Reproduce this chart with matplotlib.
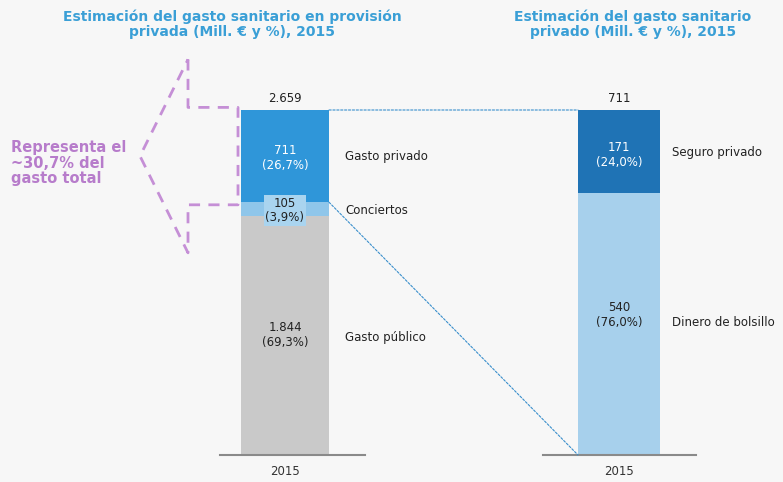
import matplotlib.pyplot as plt
from matplotlib.patches import ConnectionPatch
from matplotlib.transforms import blended_transform_factory

# Datos
year = ['2015']
left_labels = ['Gasto público', 'Conciertos', 'Gasto privado']
left_values = [1844, 105, 711]
left_pcts = ['69,3%', '3,9%', '26,7%']
left_colors = ['#c9c9c9', '#8fc6ea', '#2f96d9']
left_total = '2.659'

right_labels = ['Dinero de bolsillo', 'Seguro privado']
right_values = [540, 171]
right_pcts = ['76,0%', '24,0%']
right_colors = ['#a7d0ec', '#1f73b5']
right_total = '711'

W, H = 783, 482
fig = plt.figure(figsize=(W / 100, H / 100), dpi=100)
fig.patch.set_facecolor('#f7f7f7')
plt.rcParams['font.family'] = ['DejaVu Sans']


def px_axes(x0, x1, ytop, ybot):
    return fig.add_axes([x0 / W, 1 - ybot / H, (x1 - x0) / W, (ybot - ytop) / H])


axL = px_axes(220, 365, 110, 455)
axR = px_axes(543, 696, 110, 455)

for ax in (axL, axR):
    ax.set_facecolor('none')
    for s in ['top', 'right', 'left']:
        ax.spines[s].set_visible(False)
    ax.spines['bottom'].set_color('#8a8a8a')
    ax.spines['bottom'].set_linewidth(1.5)
    ax.set_yticks([])
    ax.tick_params(axis='x', length=0, labelsize=8.5, colors='#333333', pad=7)

# barra izquierda
axL.set_xlim(-65 / 88, 80 / 88)
axL.set_ylim(0, sum(left_values))
bottom = 0
mids = []
for v, c in zip(left_values, left_colors):
    axL.bar(year, v, bottom=bottom, width=1.0, color=c)
    mids.append(bottom + v / 2)
    bottom += v
axL.text(0, sum(left_values) + 40, left_total, ha='center', va='bottom', fontsize=8.5, color='#222222')
axL.text(0, mids[0], '1.844\n(' + left_pcts[0] + ')', ha='center', va='center', fontsize=8.5, color='#222222')
axL.text(0, mids[2] - 15, '711\n(' + left_pcts[2] + ')', ha='center', va='center', fontsize=8.5, color='white')
axL.text(0, mids[1] - 10, '105\n(' + left_pcts[1] + ')', ha='center', va='center', fontsize=8.5, color='#222222',
         linespacing=1.1, bbox=dict(boxstyle='square,pad=0.15', fc='#a9d4ef', ec='none'))
xl = 0.5 + 16 / 88
axL.text(xl, mids[2] - 6, left_labels[2], ha='left', va='center', fontsize=8.5, color='#222222')
axL.text(xl, mids[1] - 8, left_labels[1], ha='left', va='center', fontsize=8.5, color='#222222')
axL.text(xl, mids[0] - 13, left_labels[0], ha='left', va='center', fontsize=8.5, color='#222222')

# barra derecha
axR.set_xlim(-76 / 82, 77 / 82)
axR.set_ylim(0, sum(right_values))
bottom = 0
rmids = []
for v, c in zip(right_values, right_colors):
    axR.bar(year, v, bottom=bottom, width=1.0, color=c)
    rmids.append(bottom + v / 2)
    bottom += v
axR.text(0, sum(right_values) + 10, right_total, ha='center', va='bottom', fontsize=8.5, color='#222222')
axR.text(0, rmids[1] - 7, '171\n(' + right_pcts[1] + ')', ha='center', va='center', fontsize=8.5, color='white')
axR.text(0, rmids[0] + 18, '540\n(' + right_pcts[0] + ')', ha='center', va='center', fontsize=8.5, color='#222222')
axR.text(0.5 + 12 / 82, rmids[1] - 3, right_labels[1], ha='left', va='center', fontsize=8.5, color='#222222')
axR.text(0.5 + 12 / 82, rmids[0] + 4, right_labels[0], ha='left', va='center', fontsize=8.5, color='#222222')

# lineas de conexion
for (yl, yr) in [(sum(left_values), sum(right_values)), (left_values[0] + left_values[1], 0)]:
    con = ConnectionPatch(xyA=(0.5, yl), coordsA=axL.transData, xyB=(-0.5, yr), coordsB=axR.transData,
                          color='#3a8fcc', lw=0.8, ls=(0, (2, 1.5)))
    fig.add_artist(con)

# flecha morada
purple = '#c58fd6'
tr = blended_transform_factory(fig.transFigure, axL.transData)
ytop = sum(left_values) + 20
ybot = left_values[0] + left_values[1] - 20
ys_top = ytop + 48 * sum(left_values) / 345
ys_bot = ybot - 48 * sum(left_values) / 345
ytip = (ytop + ybot) / 2
px = [188, 188, 238, 238, 188, 188, 140, 188]
py = [ys_top, ytop, ytop, ybot, ybot, ys_bot, ytip, ys_top]
fig.add_artist(plt.Line2D([p / W for p in px], py, transform=tr, color=purple, lw=2, ls=(0, (4, 3))))
fig.text(11 / W, 1 - 163 / H, 'Representa el\n~30,7% del\ngasto total', ha='left', va='center',
         fontsize=10.5, fontweight='bold', color='#b77ccb', linespacing=1.05)

# titulos
title_color = '#3a9fd6'
fig.text(232 / W, 1 - 24 / H, 'Estimación del gasto sanitario en provisión\nprivada (Mill. € y %), 2015',
         ha='center', va='center', fontsize=10, fontweight='bold', color=title_color, linespacing=1.05)
fig.text(633 / W, 1 - 24 / H, 'Estimación del gasto sanitario\nprivado (Mill. € y %), 2015',
         ha='center', va='center', fontsize=10, fontweight='bold', color=title_color, linespacing=1.05)

fig.savefig('out.png', dpi=100, facecolor=fig.get_facecolor())
